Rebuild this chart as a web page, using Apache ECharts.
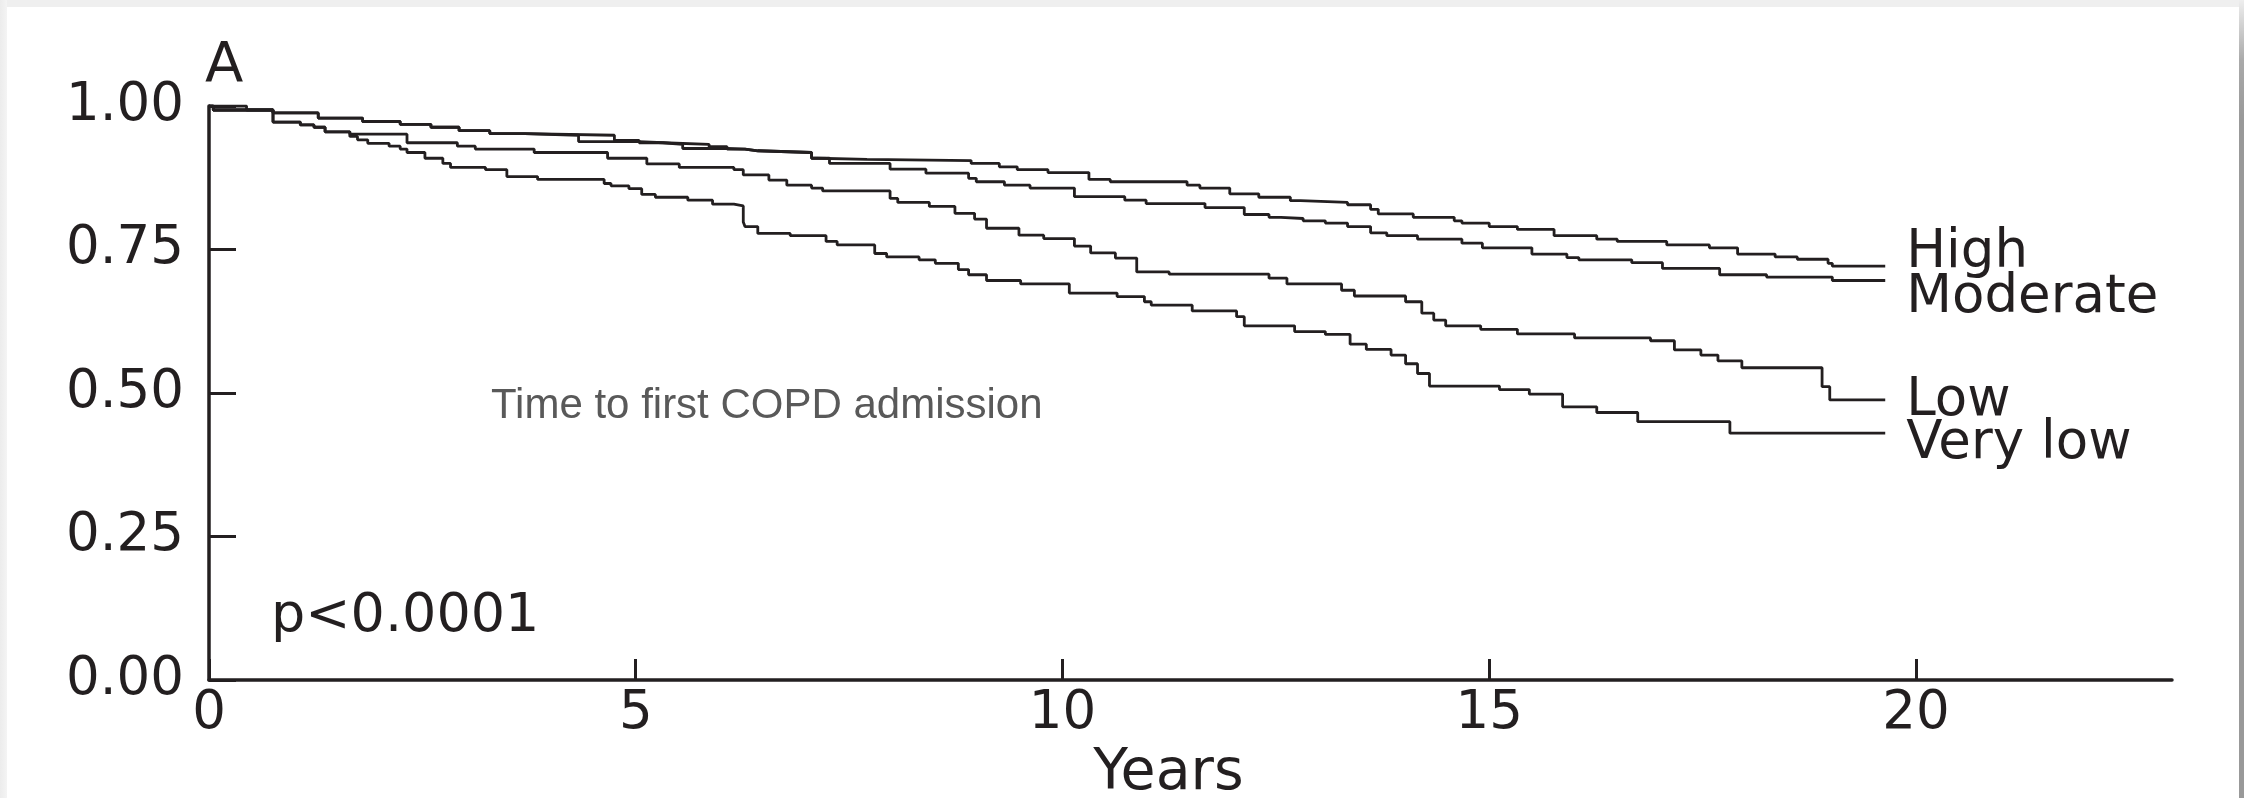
<!DOCTYPE html>
<html>
<head>
<meta charset="utf-8">
<script src="https://cdn.jsdelivr.net/npm/echarts@6/dist/echarts.min.js"></script>
<style>
  html, body { margin: 0; padding: 0; background: #fff; }
  #chart { position: absolute; left: 0; top: 0; width: 2244px; height: 798px; }
  .edge { position: absolute; pointer-events: none; }
</style>
</head>
<body>
<div id="chart"></div>
<div class="edge" style="left:0;top:0;width:2244px;height:7px;background:#efefef;"></div>
<div class="edge" style="left:0;top:0;width:7px;height:798px;background:linear-gradient(to right,#ececec,#f4f4f4);"></div>
<div class="edge" style="left:2239px;top:0;width:5px;height:798px;background:linear-gradient(to bottom,#eeeeee 0px,#aaaaaa 60px,#999999 120px,#999999 798px);"></div>
<script>
// Kaplan–Meier step curves: [years, proportion]
const highCurve = [[0,1.000],[0.44,0.993],[0.75,0.988],[1.28,0.979],[1.80,0.973],[2.24,0.968],[2.60,0.963],[2.93,0.957],[3.29,0.952],[3.70,0.949],[4.75,0.940],[5.04,0.936],[5.32,0.933],[5.86,0.929],[6.07,0.925],[6.28,0.922],[6.43,0.919],[7.06,0.909],[7.13,0.907],[7.71,0.905],[8.93,0.900],[9.26,0.894],[9.47,0.889],[9.83,0.884],[10.31,0.872],[10.56,0.868],[11.46,0.862],[11.61,0.857],[11.96,0.847],[12.30,0.841],[12.67,0.835],[12.79,0.832],[13.34,0.828],[13.61,0.820],[13.70,0.812],[14.11,0.806],[14.59,0.800],[14.68,0.796],[15.00,0.790],[15.33,0.785],[15.76,0.774],[16.26,0.768],[16.50,0.764],[17.08,0.758],[17.58,0.753],[17.91,0.742],[18.35,0.737],[18.61,0.733],[18.97,0.726],[19.02,0.721],[19.64,0.721]];
const moderateCurve = [[0,1.000],[0.05,0.993],[0.75,0.988],[1.28,0.979],[1.80,0.973],[2.24,0.968],[2.60,0.963],[2.93,0.957],[3.29,0.952],[3.70,0.949],[4.33,0.938],[5.04,0.936],[5.32,0.933],[5.55,0.926],[6.07,0.925],[6.28,0.922],[6.43,0.919],[7.06,0.909],[7.27,0.900],[7.98,0.890],[8.40,0.883],[8.90,0.874],[8.99,0.868],[9.32,0.862],[9.62,0.857],[10.14,0.842],[10.73,0.836],[10.98,0.830],[11.67,0.823],[12.13,0.811],[12.42,0.806],[12.56,0.804],[12.82,0.800],[13.08,0.796],[13.34,0.790],[13.61,0.779],[13.80,0.774],[14.16,0.768],[14.68,0.761],[14.92,0.753],[15.50,0.742],[15.91,0.736],[16.05,0.732],[16.67,0.727],[17.03,0.717],[17.70,0.706],[18.25,0.702],[19.02,0.696],[19.64,0.696]];
const lowCurve = [[0,1.000],[0.05,0.993],[0.75,0.972],[1.07,0.967],[1.23,0.963],[1.36,0.955],[1.65,0.951],[2.32,0.936],[2.91,0.930],[3.12,0.925],[3.81,0.919],[4.67,0.909],[5.13,0.899],[5.51,0.893],[6.15,0.889],[6.26,0.880],[6.56,0.871],[6.77,0.862],[7.06,0.857],[7.19,0.852],[7.98,0.839],[8.07,0.832],[8.44,0.825],[8.74,0.813],[8.97,0.803],[9.11,0.787],[9.49,0.775],[9.78,0.769],[10.14,0.756],[10.33,0.744],[10.62,0.735],[10.87,0.711],[11.25,0.707],[12.42,0.700],[12.63,0.690],[13.27,0.679],[13.42,0.669],[14.02,0.659],[14.21,0.639],[14.35,0.627],[14.49,0.617],[14.90,0.611],[15.33,0.603],[16.00,0.596],[16.89,0.591],[17.17,0.575],[17.48,0.566],[17.68,0.556],[17.96,0.544],[18.90,0.511],[18.99,0.488],[19.64,0.488]];
const veryLowCurve = [[0,1.000],[0.05,0.993],[0.75,0.972],[1.07,0.967],[1.23,0.963],[1.36,0.955],[1.65,0.947],[1.74,0.941],[1.86,0.935],[2.11,0.930],[2.24,0.925],[2.32,0.919],[2.53,0.909],[2.74,0.900],[2.83,0.893],[3.24,0.889],[3.49,0.877],[3.85,0.872],[4.63,0.865],[4.71,0.861],[4.92,0.856],[5.07,0.846],[5.23,0.841],[5.61,0.836],[5.90,0.829],[6.15,0.826],[6.26,0.798],[6.28,0.790],[6.43,0.778],[6.81,0.774],[7.23,0.764],[7.36,0.758],[7.80,0.743],[7.94,0.737],[8.32,0.732],[8.51,0.726],[8.78,0.715],[8.90,0.706],[9.11,0.696],[9.51,0.690],[10.08,0.674],[10.64,0.668],[10.96,0.659],[11.04,0.653],[11.52,0.643],[12.04,0.633],[12.13,0.617],[12.72,0.607],[13.08,0.602],[13.37,0.585],[13.56,0.576],[13.85,0.566],[14.02,0.551],[14.16,0.534],[14.30,0.512],[15.12,0.506],[15.47,0.498],[15.86,0.476],[16.26,0.466],[16.74,0.450],[17.82,0.430],[19.64,0.430]];

const seriesNames = ['High', 'Moderate', 'Low', 'Very low'];
const xTicks = [0, 5, 10, 15, 20];
const yTicks = [0, 0.25, 0.5, 0.75, 1.0];

const INK = '#231f20';
const FONT = '"DejaVu Sans", sans-serif';
const labelOffsets = [-13, 18, 1, 11];

const chart = echarts.init(document.getElementById('chart'), null, { renderer: 'canvas' });

const curves = [highCurve, moderateCurve, lowCurve, veryLowCurve];

chart.setOption({
  animation: false,
  backgroundColor: 'transparent',
  grid: { left: 209, right: 72, top: 106, bottom: 118, containLabel: false, outerBoundsMode: 'none' },
  xAxis: {
    type: 'value', min: 0, max: 23,
    name: 'Years', nameLocation: 'middle', nameGap: 66,
    nameTextStyle: { fontFamily: FONT, fontSize: 57, color: INK, padding: [0, 44, 0, 0] },
    axisLine: { show: true, onZero: false, lineStyle: { color: INK, width: 3.5 } },
    axisTick: { show: true, inside: true, length: 21, customValues: xTicks, lineStyle: { color: INK, width: 3 } },
    axisLabel: { customValues: xTicks, margin: 8, fontFamily: FONT, fontSize: 53, color: INK },
    splitLine: { show: false }
  },
  yAxis: {
    type: 'value', min: 0, max: 1,
    axisLine: { show: true, onZero: false, lineStyle: { color: INK, width: 3.5 } },
    axisTick: { show: true, inside: true, length: 27, customValues: yTicks, lineStyle: { color: INK, width: 3 } },
    axisLabel: { customValues: yTicks, margin: 25, fontFamily: FONT, fontSize: 53, color: INK,
      padding: [6, 0, 0, 0], formatter: v => v.toFixed(2) },
    splitLine: { show: false }
  },
  series: curves.map((c, i) => ({
    name: seriesNames[i],
    type: 'line',
    step: 'end',
    data: c,
    showSymbol: false,
    symbol: 'none',
    lineStyle: { color: INK, width: 2.8 },
    itemStyle: { color: INK },
    endLabel: {
      show: true,
      formatter: seriesNames[i],
      distance: 21,
      offset: [0, labelOffsets[i]],
      fontFamily: FONT,
      fontSize: 53,
      color: INK
    }
  })),
  graphic: [
    { type: 'text', x: 205, y: 66, style: { text: 'A', fontFamily: FONT, fontSize: 56, fill: INK, verticalAlign: 'middle', align: 'left' } },
    { type: 'text', x: 271, y: 617, style: { text: 'p<0.0001', fontFamily: FONT, fontSize: 54, fill: INK, verticalAlign: 'middle', align: 'left' } },
    { type: 'text', x: 491, y: 406, style: { text: 'Time to first COPD admission', fontFamily: '"Liberation Sans", Arial, sans-serif', fontSize: 42, fill: '#595959', verticalAlign: 'middle', align: 'left' } }
  ]
});
</script>
</body>
</html>
